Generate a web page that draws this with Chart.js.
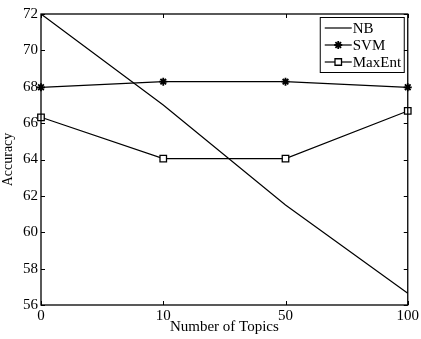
<!DOCTYPE html>
<html>
<head>
<meta charset="utf-8">
<script src="https://cdn.jsdelivr.net/npm/chart.js@4/dist/chart.umd.min.js"></script>
<style>
  html, body { margin: 0; padding: 0; background: #fff; }
  #wrap { width: 421px; height: 339px; }
</style>
</head>
<body>
<div id="wrap"><canvas id="mainChart" width="421" height="339"></canvas></div>
<script>
const topics = ["0", "10", "50", "100"];
const nbAcc = [72.0, 67.0, 61.5, 56.65];
const svmAcc = [67.97, 68.28, 68.28, 67.97];
const maxentAcc = [66.32, 64.05, 64.05, 66.67];
const yTicks = [56, 58, 60, 62, 64, 66, 68, 70, 72];

const FONT = "'Liberation Serif', 'Times New Roman', serif";

// ticks pointing into the plot on all four sides
const innerTicks = {
    id: 'innerTicks',
    afterDraw(c) {
        const ctx = c.ctx, a = c.chartArea, x = c.scales.x, y = c.scales.y;
        ctx.save();
        ctx.strokeStyle = '#000';
        ctx.lineWidth = 1;
        ctx.beginPath();
        topics.forEach((_, i) => {
            const px = Math.round(x.getPixelForValue(i)) + 0.5;
            ctx.moveTo(px, a.bottom); ctx.lineTo(px, a.bottom - 4);
            ctx.moveTo(px, a.top); ctx.lineTo(px, a.top + 4);
        });
        yTicks.forEach(v => {
            const py = Math.round(y.getPixelForValue(v)) + 0.5;
            ctx.moveTo(a.left, py); ctx.lineTo(a.left + 4, py);
            ctx.moveTo(a.right, py); ctx.lineTo(a.right - 4, py);
        });
        ctx.stroke();
        ctx.lineWidth = 1.3;
        ctx.strokeRect(a.left, a.top, a.right - a.left, a.bottom - a.top);
        ctx.restore();
    }
};

// boxed legend with line + marker samples
const boxLegend = {
    id: 'boxLegend',
    afterDraw(c) {
        const ctx = c.ctx, a = c.chartArea;
        const w = 84, h = 55;
        const bx = a.right - 4 - w, by = a.top + 3;
        ctx.save();
        ctx.fillStyle = '#fff';
        ctx.fillRect(bx, by, w, h);
        ctx.strokeStyle = '#000';
        ctx.lineWidth = 1;
        ctx.strokeRect(bx + 0.5, by + 0.5, w, h);
        ctx.font = '15px ' + FONT;
        ctx.textBaseline = 'middle';
        c.data.datasets.forEach((ds, i) => {
            const ly = by + 11 + i * 17;
            ctx.strokeStyle = '#000';
            ctx.lineWidth = 1.2;
            ctx.beginPath();
            ctx.moveTo(bx + 5, ly); ctx.lineTo(bx + 32, ly);
            ctx.stroke();
            if (ds.pointRadius > 0) {
                ctx.fillStyle = ds.pointBackgroundColor;
                ctx.lineWidth = ds.pointBorderWidth;
                Chart.helpers.drawPoint(ctx, {
                    pointStyle: ds.pointStyle, radius: ds.pointRadius,
                    borderWidth: ds.pointBorderWidth
                }, bx + 18.5, ly);
            }
            ctx.fillStyle = '#000';
            ctx.fillText(ds.label, bx + 33, ly + 1);
        });
        ctx.restore();
    }
};

const ctx = document.getElementById("mainChart").getContext("2d");
const chart = new Chart(ctx, {
    type: 'line',
    data: {
        labels: topics,
        datasets: [
            { label: 'NB', data: nbAcc, borderColor: '#000', borderWidth: 1.2,
              pointRadius: 0, pointStyle: 'circle', pointBorderWidth: 1 },
            { label: 'SVM', data: svmAcc, borderColor: '#000', borderWidth: 1.2,
              pointStyle: 'star', pointRadius: 4, pointBorderWidth: 1.8,
              pointBorderColor: '#000', pointBackgroundColor: '#000' },
            { label: 'MaxEnt', data: maxentAcc, borderColor: '#000', borderWidth: 1.2,
              pointStyle: 'rect', pointRadius: 4.6, pointBorderWidth: 1.3,
              pointBorderColor: '#000', pointBackgroundColor: '#fff' }
        ]
    },
    options: {
        responsive: false,
        animation: false,
        layout: { padding: { top: 14, right: 11, left: 0, bottom: 3 } },
        plugins: { legend: { display: false }, tooltip: { enabled: false } },
        scales: {
            x: {
                grid: { display: false, drawTicks: false },
                border: { display: false },
                offset: false,
                afterFit: s => { s.height = 31; },
                ticks: { color: '#000', font: { family: FONT, size: 15 }, padding: 2, maxRotation: 0 },
                title: { display: true, text: 'Number of Topics', color: '#000',
                         font: { family: FONT, size: 15 }, padding: { top: -3, bottom: 0 } }
            },
            y: {
                min: 56, max: 72,
                grid: { display: false, drawTicks: false },
                border: { display: false },
                afterFit: s => { s.width = 41; },
                afterBuildTicks: s => { s.ticks = yTicks.map(v => ({ value: v })); },
                ticks: { color: '#000', font: { family: FONT, size: 15 }, padding: 3 },
                title: { display: true, text: 'Accuracy', color: '#000',
                         font: { family: FONT, size: 14 }, padding: { top: 0, bottom: 0 } }
            }
        }
    },
    plugins: [innerTicks, boxLegend]
});
</script>
</body>
</html>
